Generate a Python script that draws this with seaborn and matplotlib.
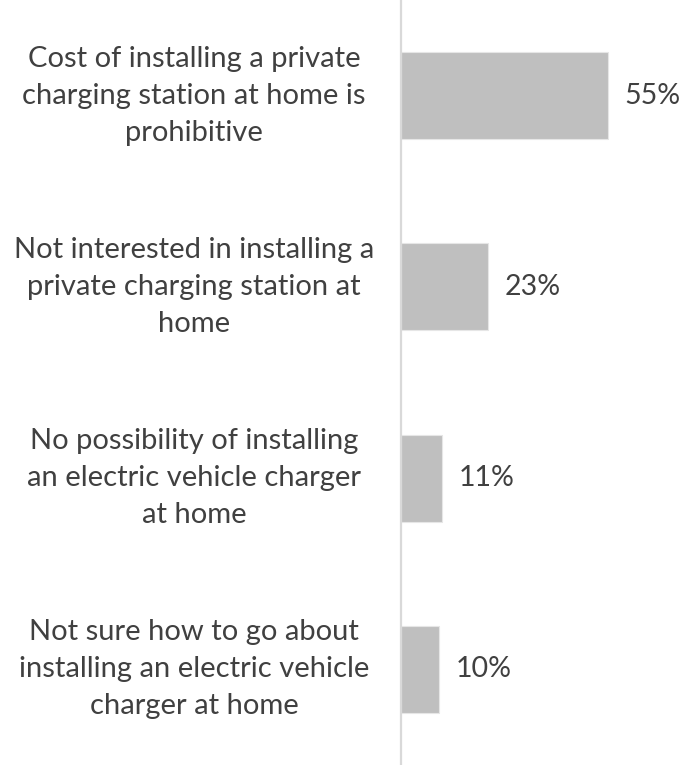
import matplotlib
matplotlib.use("Agg")
import matplotlib.pyplot as plt
import matplotlib.transforms as mtransforms
import seaborn as sns
import pandas as pd

categories = [
    "Cost of installing a private\ncharging station at home is\nprohibitive",
    "Not interested in installing a\nprivate charging station at\nhome",
    "No possibility of installing\nan electric vehicle charger\nat home",
    "Not sure how to go about\ninstalling an electric vehicle\ncharger at home",
]
values = [55, 23, 11, 10]
value_labels = ["55%", "23%", "11%", "10%"]

df = pd.DataFrame({"reason": categories, "share": values})

sns.set_theme(style="white")
plt.rcParams["font.family"] = ["Lato", "DejaVu Sans"]

fig = plt.figure(figsize=(6.85, 7.65), dpi=100)
ax = fig.add_axes([401 / 685, 0, 284 / 685, 1])

sns.barplot(data=df, x="share", y="reason", orient="h", color="#BFBFBF",
            saturation=1, width=0.455, edgecolor="#E6E6E6", linewidth=0.8, ax=ax)

ax.set_xlim(0, 75.5)
ax.set_ylim(3.5, -0.5)
ax.set_xlabel("")
ax.set_ylabel("")
ax.set_xticks([])
ax.set_yticks([])
for side in ["top", "right", "bottom"]:
    ax.spines[side].set_visible(False)
ax.spines["left"].set_color("#D9D9D9")
ax.spines["left"].set_linewidth(1.6)

text_color = "#404040"
trans = mtransforms.blended_transform_factory(ax.transAxes, ax.transData)
for i, (cat, v, lab) in enumerate(zip(categories, values, value_labels)):
    ax.text(-207 / 284, i, cat, transform=trans, ha="center", va="center",
            fontsize=21, color=text_color, linespacing=1.52)
    ax.annotate(lab, xy=(v, i), xytext=(12, 0), textcoords="offset points",
                ha="left", va="center", fontsize=20.5, color=text_color)

fig.savefig("out.png", dpi=100)
